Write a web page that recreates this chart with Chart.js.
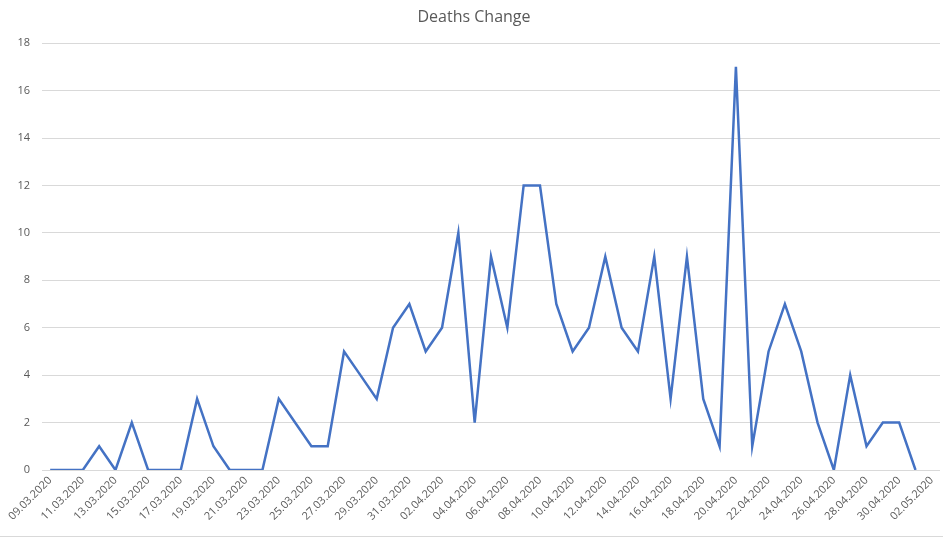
<!DOCTYPE html>
<html>
<head>
<meta charset="utf-8">
<script src="https://cdn.jsdelivr.net/npm/chart.js@4/dist/chart.umd.min.js"></script>
<style>
  body { margin: 0; background: #fff; }
  #wrap { width: 943px; height: 537px; position: relative; box-sizing: border-box; border-bottom: 1px solid #d9d9d9; }
</style>
</head>
<body>
<div id="wrap"><canvas id="grafico"></canvas></div>
<script>
const fechas = [
  "09.03.2020", "10.03.2020", "11.03.2020", "12.03.2020", "13.03.2020", "14.03.2020", "15.03.2020",
  "16.03.2020", "17.03.2020", "18.03.2020", "19.03.2020", "20.03.2020", "21.03.2020", "22.03.2020",
  "23.03.2020", "24.03.2020", "25.03.2020", "26.03.2020", "27.03.2020", "28.03.2020", "29.03.2020",
  "30.03.2020", "31.03.2020", "01.04.2020", "02.04.2020", "03.04.2020", "04.04.2020", "05.04.2020",
  "06.04.2020", "07.04.2020", "08.04.2020", "09.04.2020", "10.04.2020", "11.04.2020", "12.04.2020",
  "13.04.2020", "14.04.2020", "15.04.2020", "16.04.2020", "17.04.2020", "18.04.2020", "19.04.2020",
  "20.04.2020", "21.04.2020", "22.04.2020", "23.04.2020", "24.04.2020", "25.04.2020", "26.04.2020",
  "27.04.2020", "28.04.2020", "29.04.2020", "30.04.2020", "01.05.2020", "02.05.2020"
];
const muertes = [
  0, 0, 0, 1, 0, 2, 0,
  0, 0, 3, 1, 0, 0, 0,
  3, 2, 1, 1, 5, 4, 3,
  6, 7, 5, 6, 10, 2, 9,
  6, 12, 12, 7, 5, 6, 9,
  6, 5, 9, 3, 9, 3, 1,
  17, 1, 5, 7, 5, 2, 0,
  4, 1, 2, 2, 0, null
];
const titulo = "Deaths Change";
const ejeY = { min: 0, max: 18, paso: 2 };

const fuente = "'Open Sans', 'Noto Sans', sans-serif";
const gris = "#595959";

const config = {
  type: "line",
  data: {
    labels: fechas,
    datasets: [
      {
        label: titulo,
        data: muertes,
        borderColor: "#4472c4",
        borderWidth: 2.5,
        pointRadius: 0,
        tension: 0,
        fill: false,
        borderJoinStyle: "miter"
      }
    ]
  },
  options: {
    responsive: true,
    maintainAspectRatio: false,
    animation: false,
    layout: { padding: { left: 8, right: 3, top: 0, bottom: 0 } },
    plugins: {
      legend: { display: false },
      tooltip: { enabled: false },
      title: {
        display: true,
        text: titulo,
        color: gris,
        font: { family: fuente, size: 16, weight: "normal" },
        padding: { top: 8, bottom: 16 }
      }
    },
    scales: {
      x: {
        offset: true,
        grid: { display: false, drawTicks: false },
        border: { display: false },
        ticks: {
          autoSkip: false,
          minRotation: 45,
          maxRotation: 45,
          padding: 4,
          color: gris,
          font: { family: fuente, size: 11 },
          callback: function(val, i) {
            return i % 2 === 0 ? fechas[i] : "";
          }
        },
        afterFit: function(scale) {
          scale.height = 66;
          scale.paddingLeft = 0;
          scale.paddingRight = 0;
        }
      },
      y: {
        min: ejeY.min,
        max: ejeY.max,
        grid: { color: "#d9d9d9", lineWidth: 1, drawTicks: false },
        border: { display: false },
        ticks: {
          stepSize: ejeY.paso,
          padding: 12,
          color: gris,
          font: { family: fuente, size: 11 }
        },
        afterFit: function(scale) { scale.width = 34; }
      }
    }
  }
};

new Chart(document.getElementById("grafico"), config);
</script>
</body>
</html>
